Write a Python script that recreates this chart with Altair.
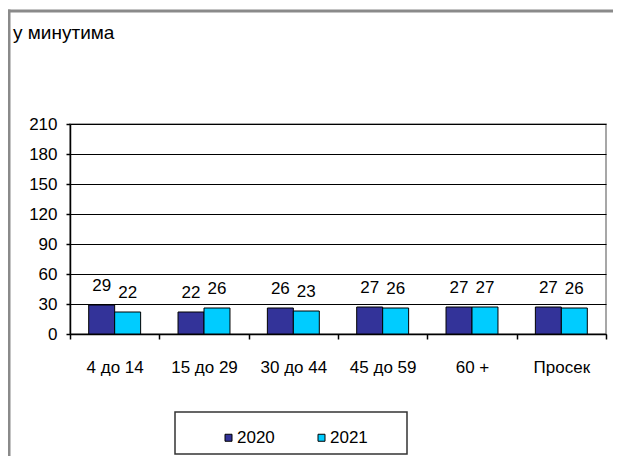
import altair as alt
import pandas as pd

categories = ["4 до 14", "15 до 29", "30 до 44", "45 до 59", "60 +", "Просек"]
years = ["2020", "2021"]
values_2020 = [29, 22, 26, 27, 27, 27]
values_2021 = [22, 26, 23, 26, 27, 26]
y_ticks = [0, 30, 60, 90, 120, 150, 180, 210]
title_text = "у минутима"
colors = ["#333399", "#00CCFF"]

rows = []
for c, a, b in zip(categories, values_2020, values_2021):
    rows.append({"cat": c, "year": years[0], "val": a})
    rows.append({"cat": c, "year": years[1], "val": b})
df = pd.DataFrame(rows)

FONT = "Liberation Sans"

x_enc = alt.X(
    "cat:N", sort=categories,
    scale=alt.Scale(paddingInner=0, paddingOuter=0),
    axis=alt.Axis(title=None, labelAngle=0, labelFontSize=17, labelFont=FONT,
                  labelColor="#000", tickBand="extent", tickSize=5, tickColor="#000",
                  tickWidth=1.5, domainColor="#000", domainWidth=1.5, labelPadding=20,
                  grid=False),
)
xoff_enc = alt.XOffset("year:N", sort=years,
                       scale=alt.Scale(paddingInner=0, paddingOuter=0.72))
y_enc = alt.Y(
    "val:Q",
    scale=alt.Scale(domain=[0, 210], nice=False),
    axis=alt.Axis(title=None, values=y_ticks, labelFontSize=17, labelFont=FONT,
                  labelColor="#000", tickSize=4, tickColor="#000", tickWidth=1.5,
                  domainColor="#000", domainWidth=1.5, labelPadding=9,
                  grid=True, gridColor="#000", gridWidth=1.2),
)
color_enc = alt.Color(
    "year:N", sort=years,
    scale=alt.Scale(domain=years, range=colors),
    legend=alt.Legend(title=None, orient="none", legendX=150, legendY=305,
                      direction="horizontal", symbolType="square", symbolSize=49,
                      symbolStrokeColor="#000", symbolStrokeWidth=1,
                      labelFontSize=17, labelFont=FONT, labelColor="#000",
                      labelOffset=0, columnPadding=38, padding=0),
)

base = alt.Chart(df)
bars = base.mark_bar(stroke="#000", strokeWidth=1).encode(
    x=x_enc, xOffset=xoff_enc, y=y_enc, color=color_enc
)
labels = base.mark_text(dy=-14, baseline="alphabetic", fontSize=17, font=FONT,
                        color="#000").encode(
    x=x_enc, xOffset=xoff_enc, y=y_enc, text="val:Q"
)

deco = alt.Chart(alt.Data(values=[{"a": 1}]))
top_bar = deco.mark_rect(fill="#8a8a8a", strokeWidth=0).encode(
    x=alt.value(-62), x2=alt.value(543), y=alt.value(-114.5), y2=alt.value(-111.5)
)
left_bar = deco.mark_rect(fill="#8a8a8a", strokeWidth=0).encode(
    x=alt.value(-62.5), x2=alt.value(-59.5), y=alt.value(-114.5), y2=alt.value(340)
)
legend_box = deco.mark_rect(fill="transparent", stroke="#333", strokeWidth=1.5).encode(
    x=alt.value(105), x2=alt.value(337), y=alt.value(288), y2=alt.value(330)
)
title = deco.mark_text(align="left", baseline="alphabetic", fontSize=19, font=FONT,
                       color="#000").encode(
    x=alt.value(-57), y=alt.value(-85), text=alt.value(title_text)
)

chart = alt.layer(top_bar, left_bar, legend_box, bars, labels, title).properties(
    width=536, height=210,
    autosize=alt.AutoSizeParams(type="none"),
    padding={"left": 62, "top": 116, "right": 7, "bottom": 122},
).configure_view(stroke="#8a8a8a", strokeWidth=1.5)

chart.save("out.html", embed_options={"renderer": "svg", "actions": False})
